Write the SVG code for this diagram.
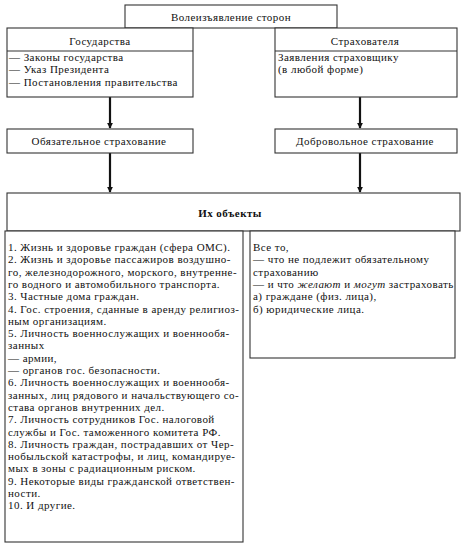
<svg xmlns="http://www.w3.org/2000/svg" width="466" height="554" viewBox="0 0 466 554">
<defs>
<style>
.box{fill:#fff;stroke:#333;stroke-width:1.1}
.ln{stroke:#333;stroke-width:1.1;fill:none}
.t{font-family:"Liberation Serif","Times New Roman",serif;font-size:11px;letter-spacing:0.45px;fill:#111}
.c{text-anchor:middle}
.b{font-weight:bold}
.i{font-style:italic}
.con{stroke:#111;stroke-width:2.2;fill:none}
</style>
<marker id="ah" viewBox="0 0 8 8" refX="7" refY="4" markerWidth="2.6" markerHeight="2.6" orient="auto" markerUnits="strokeWidth">
<path d="M0,0 L8,4 L0,8 z" fill="#111"/>
</marker>
</defs>
<rect width="466" height="554" fill="#fff"/>

<g id="connectors">
<line class="con" x1="110" y1="97" x2="110" y2="128" marker-end="url(#ah)"/>
<line class="con" x1="360" y1="97" x2="360" y2="128" marker-end="url(#ah)"/>
<line class="con" x1="110" y1="153" x2="110" y2="192" marker-end="url(#ah)"/>
<line class="con" x1="360" y1="153" x2="360" y2="192" marker-end="url(#ah)"/>
</g>

<g id="will">
<rect class="box" x="125" y="5" width="212" height="23"/>
<text class="t c" x="231" y="21">Волеизъявление сторон</text>
</g>

<g id="state">
<rect class="box" x="7" y="28" width="186" height="69"/>
<line class="ln" x1="7" y1="51" x2="193" y2="51"/>
<text class="t c" x="100" y="45">Государства</text>
<text class="t" x="9" y="61">— Законы государства</text>
<text class="t" x="9" y="73.3">— Указ Президента</text>
<text class="t" x="9" y="85.6">— Постановления  правительства</text>
</g>

<g id="insurer">
<rect class="box" x="275" y="28" width="182" height="69"/>
<line class="ln" x1="275" y1="51" x2="457" y2="51"/>
<text class="t c" x="365" y="45">Страхователя</text>
<text class="t" x="278" y="61">Заявления страховщику</text>
<text class="t" x="278" y="73.3">(в любой форме)</text>
</g>

<g id="mandatory">
<rect class="box" x="7" y="129" width="186" height="24"/>
<text class="t c" x="99" y="145">Обязательное страхование</text>
</g>

<g id="voluntary">
<rect class="box" x="275" y="129" width="182" height="24"/>
<text class="t c" x="365" y="145">Добровольное страхование</text>
</g>

<g id="objects">
<rect class="box" x="7" y="193" width="453" height="38"/>
<text class="t c b" x="230" y="217">Их объекты</text>
</g>

<g id="mandatory-objects">
<rect class="box" x="5" y="231" width="238" height="311"/>
<text class="t" x="8" y="251">1. Жизнь и здоровье граждан (сфера ОМС).</text>
<text class="t" x="8" y="263.3">2. Жизнь и здоровье пассажиров воздушно-</text>
<text class="t" x="8" y="275.6">го, железнодорожного, морского, внутренне-</text>
<text class="t" x="8" y="287.9">го водного и автомобильного транспорта.</text>
<text class="t" x="8" y="300.2">3. Частные дома граждан.</text>
<text class="t" x="8" y="312.5">4. Гос. строения, сданные в аренду религиоз-</text>
<text class="t" x="8" y="324.8">ным организациям.</text>
<text class="t" x="8" y="337.1">5. Личность военнослужащих и военнообя-</text>
<text class="t" x="8" y="349.4">занных</text>
<text class="t" x="8" y="361.7">— армии,</text>
<text class="t" x="8" y="374">— органов гос. безопасности.</text>
<text class="t" x="8" y="386.3">6. Личность военнослужащих и военнообя-</text>
<text class="t" x="8" y="398.6">занных, лиц рядового и начальствующего со-</text>
<text class="t" x="8" y="410.9">става органов внутренних дел.</text>
<text class="t" x="8" y="423.2">7. Личность сотрудников Гос. налоговой</text>
<text class="t" x="8" y="435.5">службы и Гос. таможенного комитета РФ.</text>
<text class="t" x="8" y="447.8">8. Личность граждан, пострадавших от Чер-</text>
<text class="t" x="8" y="460.1">нобыльской катастрофы, и лиц, командируе-</text>
<text class="t" x="8" y="472.4">мых в зоны с радиационным риском.</text>
<text class="t" x="8" y="484.7">9. Некоторые виды гражданской ответствен-</text>
<text class="t" x="8" y="497">ности.</text>
<text class="t" x="8" y="509.3">10. И другие.</text>
</g>

<g id="voluntary-objects">
<rect class="box" x="250" y="231" width="205" height="127"/>
<text class="t" x="253" y="251">Все то,</text>
<text class="t" x="253" y="263.3">— что не подлежит обязательному</text>
<text class="t" x="253" y="275.6">страхованию</text>
<text class="t" x="253" y="287.9">— и что <tspan class="i">желают</tspan> и <tspan class="i">могут</tspan> застраховать</text>
<text class="t" x="253" y="300.2">а) граждане (физ. лица),</text>
<text class="t" x="253" y="312.5">б) юридические лица.</text>
</g>
</svg>
